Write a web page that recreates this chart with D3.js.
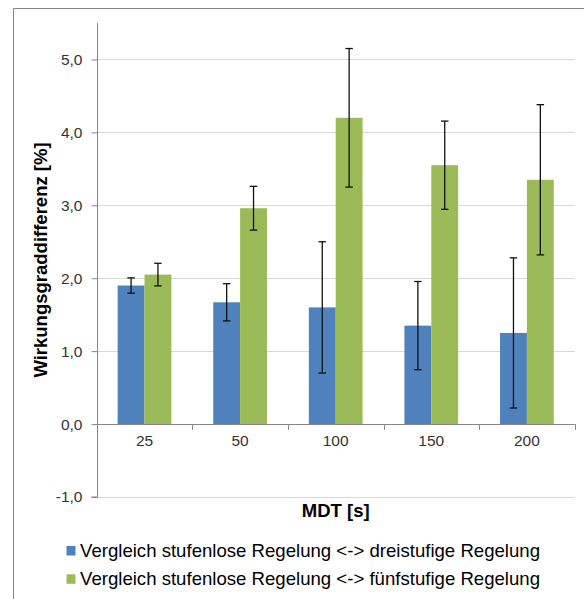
<!DOCTYPE html>
<html>
<head>
<meta charset="utf-8">
<script src="https://cdn.jsdelivr.net/npm/d3@7"></script>
<style>
  html, body { margin: 0; padding: 0; background: #fff; }
  svg { display: block; font-family: "Liberation Sans", Arial, sans-serif; }
</style>
</head>
<body>
<svg id="chart" width="584" height="599"></svg>
<script>
// MDT categories (seconds)
const categories = ["25", "50", "100", "150", "200"];
// Series names
const seriesNames = [
  "Vergleich stufenlose Regelung <-> dreistufige Regelung",
  "Vergleich stufenlose Regelung <-> fünfstufige Regelung"
];
// Mean efficiency difference [%]
const dreistufig = [1.90, 1.67, 1.60, 1.35, 1.25];
const fuenfstufig = [2.05, 2.96, 4.20, 3.55, 3.35];
// Symmetric error bar half-widths [%]
const dreistufigErr = [0.105, 0.255, 0.90, 0.605, 1.03];
const fuenfstufigErr = [0.155, 0.30, 0.95, 0.605, 1.03];
// Y axis ticks
const yTicks = [-1, 0, 1, 2, 3, 4, 5];
const colors = ["#4F81BD", "#9BBB59"];

const svg = d3.select("#chart");

// outer chart frame (left and top edges visible)
svg.append("path")
  .attr("d", "M13.5,599 V8.5 H584")
  .attr("fill", "none")
  .attr("stroke", "#868686")
  .attr("stroke-width", 1);

const plot = { left: 96.7, right: 574.7, top: 23, bottom: 497 };

const y = d3.scaleLinear().domain([-1, 5.5]).range([plot.bottom, plot.top]);
const x0 = d3.scaleBand().domain(categories).range([plot.left, plot.right]).padding(0);
const bw = x0.bandwidth();
const x1 = d3.scaleBand().domain([0, 1])
  .range([bw * 0.219, bw * (1 - 0.219)]).padding(0);

const loc = d3.formatLocale({ decimal: ",", thousands: ".", grouping: [3], currency: ["", "€"], minus: "-" });
const fmt = loc.format(".1f");

// horizontal gridlines
svg.append("g").selectAll("line")
  .data(yTicks.filter(t => t !== 0))
  .join("line")
  .attr("x1", plot.left).attr("x2", plot.right)
  .attr("y1", d => Math.round(y(d)) + 0.5).attr("y2", d => Math.round(y(d)) + 0.5)
  .attr("stroke", "#d9d9d9").attr("stroke-width", 1);

// bars
const data = categories.map((c, i) => ({
  cat: c,
  vals: [
    { s: 0, v: dreistufig[i], e: dreistufigErr[i] },
    { s: 1, v: fuenfstufig[i], e: fuenfstufigErr[i] }
  ]
}));

const groups = svg.append("g").selectAll("g")
  .data(data).join("g")
  .attr("transform", d => `translate(${x0(d.cat)},0)`);

groups.selectAll("rect")
  .data(d => d.vals).join("rect")
  .attr("x", d => x1(d.s))
  .attr("width", x1.bandwidth())
  .attr("y", d => y(Math.max(0, d.v)))
  .attr("height", d => Math.abs(y(d.v) - y(0)))
  .attr("fill", d => colors[d.s]);

// error bars
const capW = 7.5;
const eb = groups.selectAll("g.err")
  .data(d => d.vals).join("g").attr("class", "err")
  .attr("stroke", "#111").attr("stroke-width", 1.3);
eb.append("line")
  .attr("x1", d => x1(d.s) + x1.bandwidth() / 2)
  .attr("x2", d => x1(d.s) + x1.bandwidth() / 2)
  .attr("y1", d => y(d.v + d.e)).attr("y2", d => y(d.v - d.e));
eb.append("line")
  .attr("x1", d => x1(d.s) + x1.bandwidth() / 2 - capW / 2)
  .attr("x2", d => x1(d.s) + x1.bandwidth() / 2 + capW / 2)
  .attr("y1", d => y(d.v + d.e)).attr("y2", d => y(d.v + d.e));
eb.append("line")
  .attr("x1", d => x1(d.s) + x1.bandwidth() / 2 - capW / 2)
  .attr("x2", d => x1(d.s) + x1.bandwidth() / 2 + capW / 2)
  .attr("y1", d => y(d.v - d.e)).attr("y2", d => y(d.v - d.e));

// y axis
const yAxis = svg.append("g")
  .attr("transform", `translate(${Math.round(plot.left) + 0.5},0)`)
  .call(d3.axisLeft(y).tickValues(yTicks).tickFormat(fmt).tickSize(6).tickPadding(9));
yAxis.select(".domain").attr("stroke", "#868686").attr("d", `M0,${plot.top}V${plot.bottom}M-6,${plot.bottom}H0`);
yAxis.selectAll(".tick line").attr("stroke", "#868686");
yAxis.selectAll(".tick text")
  .attr("fill", "#333").attr("font-size", 15.5)
  .attr("font-family", "'Liberation Sans', Arial, sans-serif");

// x axis along zero line, ticks at category boundaries
const xAxisG = svg.append("g");
xAxisG.append("line")
  .attr("x1", plot.left).attr("x2", plot.right)
  .attr("y1", Math.round(y(0)) + 0.5).attr("y2", Math.round(y(0)) + 0.5)
  .attr("stroke", "#868686");
const bounds = categories.map(c => x0(c) + bw);
xAxisG.selectAll("line.tk").data(bounds).join("line").attr("class", "tk")
  .attr("x1", d => Math.round(d) + 0.5).attr("x2", d => Math.round(d) + 0.5)
  .attr("y1", Math.round(y(0))).attr("y2", Math.round(y(0)) + 6)
  .attr("stroke", "#868686");
xAxisG.selectAll("text").data(categories).join("text")
  .attr("x", d => x0(d) + bw / 2)
  .attr("y", Math.round(y(0)) + 22)
  .attr("text-anchor", "middle")
  .attr("font-size", 15.5).attr("fill", "#333")
  .text(d => d);

// axis titles
svg.append("text")
  .attr("transform", `translate(46.5,${(plot.top + plot.bottom) / 2}) rotate(-90)`)
  .attr("text-anchor", "middle")
  .attr("font-size", 18.5).attr("font-weight", "bold").attr("fill", "#000")
  .text("Wirkungsgraddifferenz [%]");
svg.append("text")
  .attr("x", (plot.left + plot.right) / 2).attr("y", 516.5)
  .attr("text-anchor", "middle")
  .attr("font-size", 18.5).attr("font-weight", "bold").attr("fill", "#000")
  .text("MDT [s]");

// legend
const legend = svg.append("g").selectAll("g")
  .data(seriesNames).join("g")
  .attr("transform", (d, i) => `translate(0,${557 + i * 28.3})`);
legend.append("rect")
  .attr("x", 66.5).attr("y", -11).attr("width", 9).attr("height", 9.5)
  .attr("fill", (d, i) => colors[i]);
legend.append("text")
  .attr("x", 80).attr("y", 0)
  .attr("font-size", 18.6).attr("fill", "#000")
  .text(d => d);
</script>
</body>
</html>
